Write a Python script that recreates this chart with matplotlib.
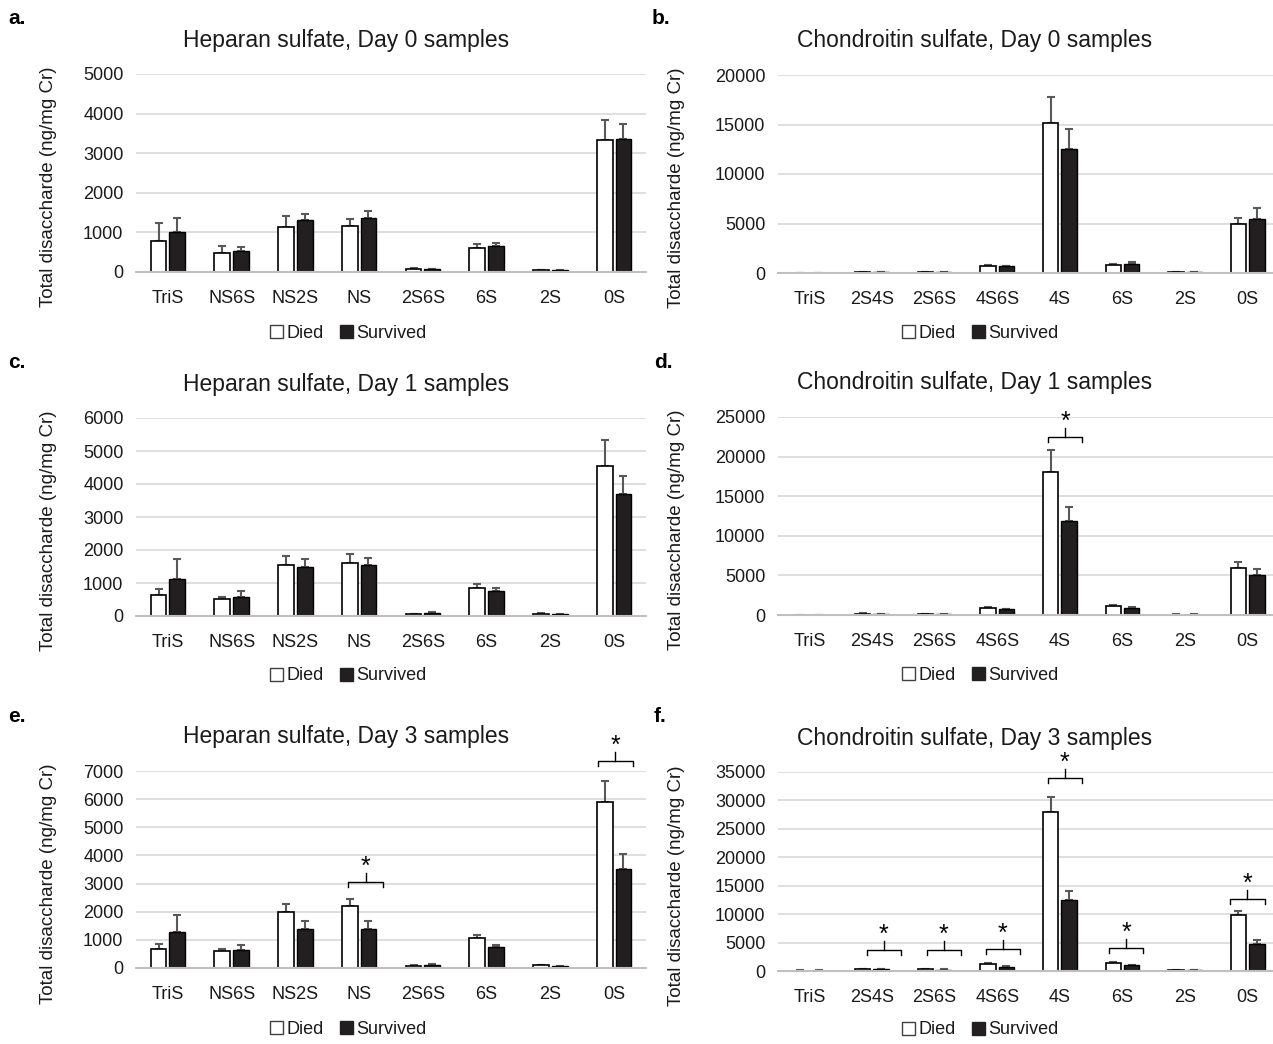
import matplotlib
matplotlib.use('Agg')
import matplotlib.pyplot as plt
from matplotlib.patches import Patch
import numpy as np

plt.rcParams['font.family'] = ['Liberation Sans', 'DejaVu Sans']

# categories
cats_hs = ['TriS', 'NS6S', 'NS2S', 'NS', '2S6S', '6S', '2S', '0S']
cats_cs = ['TriS', '2S4S', '2S6S', '4S6S', '4S', '6S', '2S', '0S']

# panel a - heparan sulfate day 0
a_died = [775, 470, 1145, 1165, 70, 605, 45, 3330]
a_died_err = [455, 180, 280, 165, 25, 95, 10, 515]
a_surv = [1010, 540, 1305, 1365, 70, 665, 45, 3370]
a_surv_err = [365, 100, 170, 185, 15, 75, 10, 375]

# panel b - chondroitin sulfate day 0
b_died = [20, 120, 90, 700, 15120, 775, 60, 4980]
b_died_err = [10, 30, 20, 100, 2660, 165, 10, 610]
b_surv = [20, 110, 90, 670, 12525, 940, 60, 5490]
b_surv_err = [10, 30, 20, 70, 2020, 140, 10, 1040]

# panel c - heparan sulfate day 1
c_died = [650, 505, 1560, 1620, 50, 850, 60, 4550]
c_died_err = [170, 75, 260, 250, 10, 120, 20, 770]
c_surv = [1115, 580, 1490, 1540, 80, 750, 60, 3690]
c_surv_err = [605, 180, 240, 230, 30, 100, 15, 555]

# panel d - chondroitin sulfate day 1
d_died = [30, 180, 90, 925, 18100, 1095, 60, 5975]
d_died_err = [10, 40, 20, 125, 2690, 125, 10, 675]
d_surv = [20, 130, 90, 715, 11910, 840, 60, 5050]
d_surv_err = [10, 30, 20, 85, 1680, 130, 10, 715]

# panel e - heparan sulfate day 3
e_died = [685, 605, 2000, 2210, 80, 1050, 100, 5890]
e_died_err = [165, 80, 260, 250, 15, 130, 20, 755]
e_surv = [1275, 640, 1395, 1395, 110, 735, 70, 3510]
e_surv_err = [615, 175, 260, 260, 30, 95, 10, 545]

# panel f - chondroitin sulfate day 3
f_died = [80, 350, 300, 1290, 27900, 1400, 150, 9900]
f_died_err = [20, 60, 50, 175, 2700, 125, 30, 650]
f_surv = [80, 290, 250, 760, 12490, 1000, 120, 4750]
f_surv_err = [20, 50, 40, 120, 1580, 110, 20, 700]

# significance brackets: (category index, bracket level)
d_sig = [(4, 22500)]
e_sig = [(3, 3050), (7, 7355)]
f_sig = [(1, 3750), (2, 3750), (3, 3930), (4, 34000), (5, 4100), (7, 12660)]
# horizontal extent of each bracket relative to category centre
d_sig_span = [(-0.19, 0.36)]
e_sig_span = [(-0.17, 0.38), (-0.25, 0.29)]
f_sig_span = [(-0.08, 0.46), (-0.12, 0.42), (-0.18, 0.36), (-0.19, 0.35), (-0.21, 0.33), (-0.28, 0.27)]

W, H = 1273, 1044
fig = plt.figure(figsize=(W / 100, H / 100), dpi=100)

tick_fs = 13
label_color = '#1a1a1a'


def make_panel(rect, letter, letter_xy, title, title_xy, legend_xy, cats, died, died_err,
               surv, surv_err, ymax, ystep, ylabel_x, sig=(), sig_span=()):
    left, right, top, bottom = rect
    ax = fig.add_axes([left / W, 1 - bottom / H, (right - left) / W, (bottom - top) / H])
    x = np.arange(len(cats))
    w = 0.245
    off = 0.147
    ax.bar(x - off, died, w, color='white', edgecolor='black', linewidth=1.2, zorder=3)
    ax.bar(x + off, surv, w, color='#231f20', edgecolor='black', linewidth=1.0, zorder=3)
    ax.errorbar(x - off, died, yerr=[np.zeros(len(died)), died_err], fmt='none',
                ecolor='#595959', elinewidth=1.5, capsize=3, capthick=1.5, zorder=2)
    ax.errorbar(x + off, surv, yerr=[np.zeros(len(surv)), surv_err], fmt='none',
                ecolor='#595959', elinewidth=1.5, capsize=3, capthick=1.5, zorder=2)
    ax.set_xlim(-0.5, len(cats) - 0.5)
    ax.set_ylim(0, ymax)
    ax.set_yticks(np.arange(0, ymax + 1, ystep))
    ax.set_xticks(x)
    ax.set_xticklabels(cats)
    ax.yaxis.grid(True, color='#d9d9d9', linewidth=1.2, zorder=0)
    ax.set_axisbelow(True)
    for s in ['top', 'right', 'left']:
        ax.spines[s].set_visible(False)
    ax.spines['bottom'].set_color('#bfbfbf')
    ax.spines['bottom'].set_linewidth(1.5)
    ax.spines['bottom'].set_zorder(4)
    ax.tick_params(axis='both', length=0, labelsize=tick_fs, labelcolor=label_color)
    ax.tick_params(axis='y', pad=9)
    ax.tick_params(axis='x', pad=13)
    ax.set_ylabel('Total disaccharde (ng/mg Cr)', fontsize=13.5, color=label_color)
    ax.yaxis.set_label_coords((ylabel_x - left) / (right - left), 0.43)

    fig.text(letter_xy[0] / W, 1 - letter_xy[1] / H, letter, fontsize=15,
             fontweight='bold', ha='left', va='center')
    fig.text(title_xy[0] / W, 1 - title_xy[1] / H, title, fontsize=16.5,
             ha='center', va='center', color=label_color)

    handles = [Patch(facecolor='white', edgecolor='#404040', linewidth=1.0, label='Died'),
               Patch(facecolor='#231f20', edgecolor='#231f20', label='Survived')]
    ax.legend(handles=handles, loc='center', bbox_to_anchor=(legend_xy[0] / W, 1 - legend_xy[1] / H),
              bbox_transform=fig.transFigure, ncol=2, frameon=False, fontsize=13,
              handlelength=0.75, handleheight=0.75, handletextpad=0.15, columnspacing=0.9,
              labelcolor=label_color)

    # brackets, sizes in pixels converted to data units
    per_px = ymax / (bottom - top)
    for (ci, lvl), (l0, r0) in zip(sig, sig_span):
        xl, xr = ci + l0, ci + r0
        xm = (xl + xr) / 2
        ax.plot([xl, xl, xr, xr], [lvl - 5 * per_px, lvl, lvl, lvl - 5 * per_px],
                color='black', linewidth=1.0, clip_on=False, zorder=5)
        ax.plot([xm, xm], [lvl, lvl + 9 * per_px], color='black', linewidth=1.0,
                clip_on=False, zorder=5)
        ax.text(xm, lvl + 3 * per_px, '*', fontsize=18, ha='center', va='bottom',
                clip_on=False)
    return ax


make_panel((136, 646, 74, 272), 'a.', (8, 18), 'Heparan sulfate, Day 0 samples', (346, 40),
           (348, 333), cats_hs, a_died, a_died_err, a_surv, a_surv_err, 5000, 1000, 57)
make_panel((778, 1279, 75, 273), 'b.', (652, 18), 'Chondroitin sulfate, Day 0 samples', (975, 40),
           (980, 333), cats_cs, b_died, b_died_err, b_surv, b_surv_err, 20000, 5000, 685)
make_panel((136, 646, 418, 616), 'c.', (8, 362), 'Heparan sulfate, Day 1 samples', (346, 384),
           (348, 676), cats_hs, c_died, c_died_err, c_surv, c_surv_err, 6000, 1000, 57)
make_panel((778, 1279, 417, 615), 'd.', (654, 362), 'Chondroitin sulfate, Day 1 samples', (975, 383),
           (980, 675), cats_cs, d_died, d_died_err, d_surv, d_surv_err, 25000, 5000, 685,
           d_sig, d_sig_span)
make_panel((136, 646, 771, 968), 'e.', (8, 716), 'Heparan sulfate, Day 3 samples', (346, 737),
           (348, 1029), cats_hs, e_died, e_died_err, e_surv, e_surv_err, 7000, 1000, 57,
           e_sig, e_sig_span)
make_panel((778, 1279, 772, 971), 'f.', (654, 716), 'Chondroitin sulfate, Day 3 samples', (975, 738),
           (980, 1030), cats_cs, f_died, f_died_err, f_surv, f_surv_err, 35000, 5000, 685,
           f_sig, f_sig_span)

fig.savefig('out.png', dpi=100)
